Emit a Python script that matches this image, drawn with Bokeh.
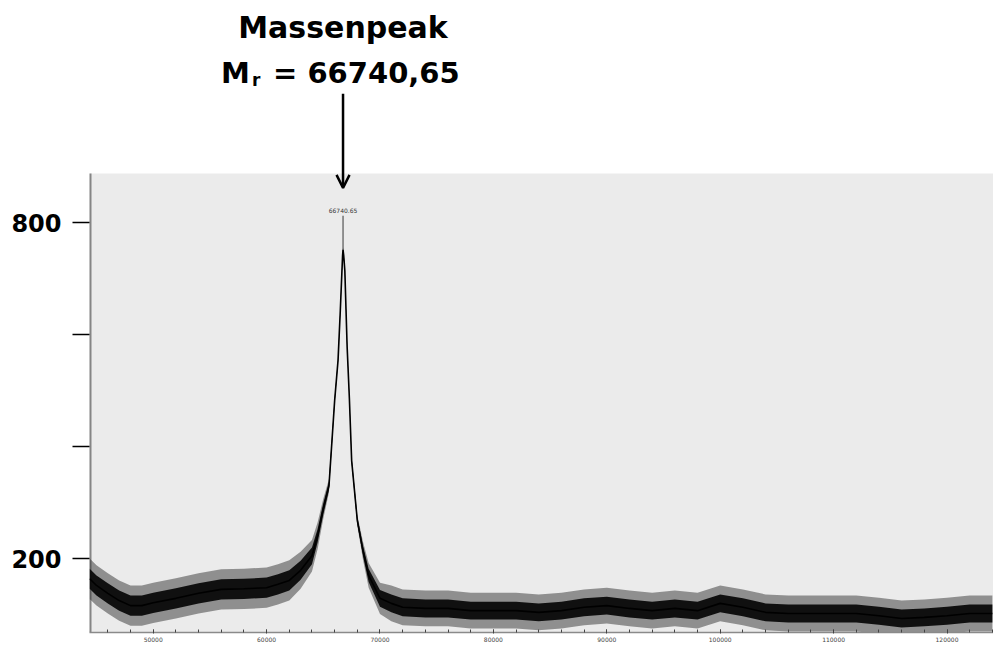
from bokeh.plotting import figure
from bokeh.models import (Range1d, FixedTicker, SingleIntervalTicker, Label, Arrow,
                          OpenHead, BoxAnnotation, BasicTickFormatter)
from bokeh.core.properties import value
from bokeh.embed import file_html
from bokeh.resources import INLINE

# ---- data ----
mass = [44400, 45000, 46000, 47000, 48000, 49000, 50000, 52000, 54000, 56000,
        58000, 60000, 61000, 62000, 63000, 64000, 64500, 65000, 65500, 66000,
        66300, 66500, 66700, 66740, 66800, 66900, 67100, 67300, 67500, 68000,
        68500, 69000, 70000, 71000, 72000, 74000, 76000, 78000, 80000, 82000,
        84000, 86000, 88000, 90000, 92000, 94000, 96000, 98000, 100000, 102000,
        104000, 106000, 108000, 110000, 112000, 114000, 116000, 118000, 120000,
        122000, 124000]
intensity = [164, 152, 138, 125, 116, 116, 121, 129, 138, 145,
             146, 148, 154, 161, 179, 205, 241, 289, 330, 482,
             554, 643, 741, 752, 741, 714, 579, 486, 375, 268,
             214, 170, 129, 120, 113, 111, 111, 107, 107, 107,
             104, 107, 113, 116, 111, 107, 111, 107, 120, 113,
             104, 102, 102, 102, 102, 98, 93, 95, 98, 102, 102]
core_spread = [18, 18, 18, 18, 18, 18, 18, 18, 18, 18,
               18, 18, 18, 18, 17, 15, 12, 10, 7, 4,
               3, 3, 3, 3, 3, 3, 3, 3, 4, 6,
               9, 12, 15, 16, 16, 16, 16, 16, 16, 16,
               16, 16, 16, 16, 16, 16, 16, 16, 16, 16,
               16, 16, 16, 16, 16, 16, 16, 16, 16, 16, 16]
spike_spread = [36, 36, 36, 36, 36, 36, 36, 36, 36, 36,
                36, 36, 36, 36, 33, 28, 24, 18, 12, 6,
                4, 4, 4, 4, 4, 4, 4, 4, 6, 10,
                16, 22, 28, 32, 32, 32, 32, 32, 32, 32,
                32, 32, 32, 32, 32, 32, 32, 32, 32, 32,
                32, 32, 32, 32, 32, 32, 32, 32, 32, 32, 32]

peak_mass = 66740.65
peak_top = 812
peak_tag = "66740.65"

y_ticks = [200, 400, 600, 800]
y_tick_labels = {200: "200", 400: "", 600: "", 800: "800"}
x_tick_interval = 10000

title_line1 = "Massenpeak"
title_m = "M"
title_sub = "r"
title_rest = "= 66740,65"

# ranges: the scanned spectrum spans y_min..scan_top, annotation above it
x_min, x_max = 44383, 124100
y_min, scan_top, y_max = 68, 887.5, 1196.6

# ---- derived ----
core_lo = [v - s for v, s in zip(intensity, core_spread)]
core_hi = [v + s for v, s in zip(intensity, core_spread)]
spike_lo = [v - s for v, s in zip(intensity, spike_spread)]
spike_hi = [v + s for v, s in zip(intensity, spike_spread)]
peak_base = intensity[mass.index(66740)]

p = figure(width=993, height=645, output_backend="svg", toolbar_location=None,
           x_range=Range1d(x_min, x_max), y_range=Range1d(y_min, y_max),
           min_border_left=89, min_border_right=0, min_border_top=0,
           min_border_bottom=13)
p.background_fill_color = "white"
p.border_fill_color = "white"
p.outline_line_color = None
p.grid.grid_line_color = None

# scanned paper area
p.add_layout(BoxAnnotation(top=scan_top, fill_color="#ebebeb", fill_alpha=1.0,
                           line_color=None, level="underlay"))
# scanned y axis line (only over the paper area)
p.segment(x0=[x_min], y0=[y_min], x1=[x_min], y1=[scan_top],
          line_color="#858585", line_width=4)

p.varea(x=mass, y1=spike_lo, y2=spike_hi, fill_color="#333333", fill_alpha=0.5)
p.varea(x=mass, y1=core_lo, y2=core_hi, fill_color="#050505", fill_alpha=0.92)
p.line(x=mass, y=intensity, line_color="black", line_width=1.6)
p.segment(x0=[peak_mass], y0=[peak_base], x1=[peak_mass], y1=[peak_top],
          line_color="#555555", line_width=1.2)
p.text(x=[peak_mass], y=[peak_top + 9], text=[peak_tag], text_align="center",
       text_baseline="middle", text_font_size="6px", text_color="#333333",
       text_font=value("DejaVu Sans"))

# y axis
ya = p.yaxis[0]
ya.ticker = FixedTicker(ticks=y_ticks, minor_ticks=[])
ya.major_label_overrides = y_tick_labels
ya.axis_line_color = None
ya.major_tick_out = 17
ya.major_tick_in = 0
ya.major_tick_line_color = "black"
ya.major_tick_line_width = 1.5
ya.major_label_standoff = 11
ya.major_label_text_font = "DejaVu Sans"
ya.major_label_text_font_style = "bold"
ya.major_label_text_font_size = "24px"
ya.major_label_text_color = "black"

# x axis (small scanned scale)
xa = p.xaxis[0]
xa.ticker = SingleIntervalTicker(interval=x_tick_interval, num_minor_ticks=5)
xa.formatter = BasicTickFormatter(use_scientific=False)
xa.axis_line_color = "#8a8a8a"
xa.axis_line_width = 1.5
xa.major_tick_in = 3
xa.major_tick_out = 1
xa.minor_tick_in = 3
xa.minor_tick_out = 0
xa.major_tick_line_color = "#444444"
xa.minor_tick_line_color = "#444444"
xa.major_label_standoff = 3
xa.major_label_text_font_size = "6px"
xa.major_label_text_color = "#444444"
xa.major_label_text_font = "DejaVu Sans"

# annotation above the chart
font = "DejaVu Sans"
p.add_layout(Label(x=66740, y=1148, text=title_line1, text_align="center",
                   text_baseline="alphabetic", text_font=font, text_font_style="bold",
                   text_font_size="30px", text_color="black"))
p.add_layout(Label(x=66740, y=1068, x_offset=-122, text=title_m, text_align="left",
                   text_baseline="alphabetic", text_font=font, text_font_style="bold",
                   text_font_size="29px", text_color="black"))
p.add_layout(Label(x=66740, y=1054, x_offset=-91, text=title_sub, text_align="left",
                   text_baseline="alphabetic", text_font=font, text_font_style="bold",
                   text_font_size="17px", text_color="black"))
p.add_layout(Label(x=66740, y=1068, x_offset=-70, text=title_rest, text_align="left",
                   text_baseline="alphabetic", text_font=font, text_font_style="bold",
                   text_font_size="29px", text_color="black"))
p.add_layout(Arrow(end=OpenHead(size=13, line_width=2.5, line_color="black"),
                   x_start=66740, y_start=1030, x_end=66740, y_end=862,
                   line_width=2.5, line_color="black"))

open("out.html", "w").write(file_html(p, INLINE))
